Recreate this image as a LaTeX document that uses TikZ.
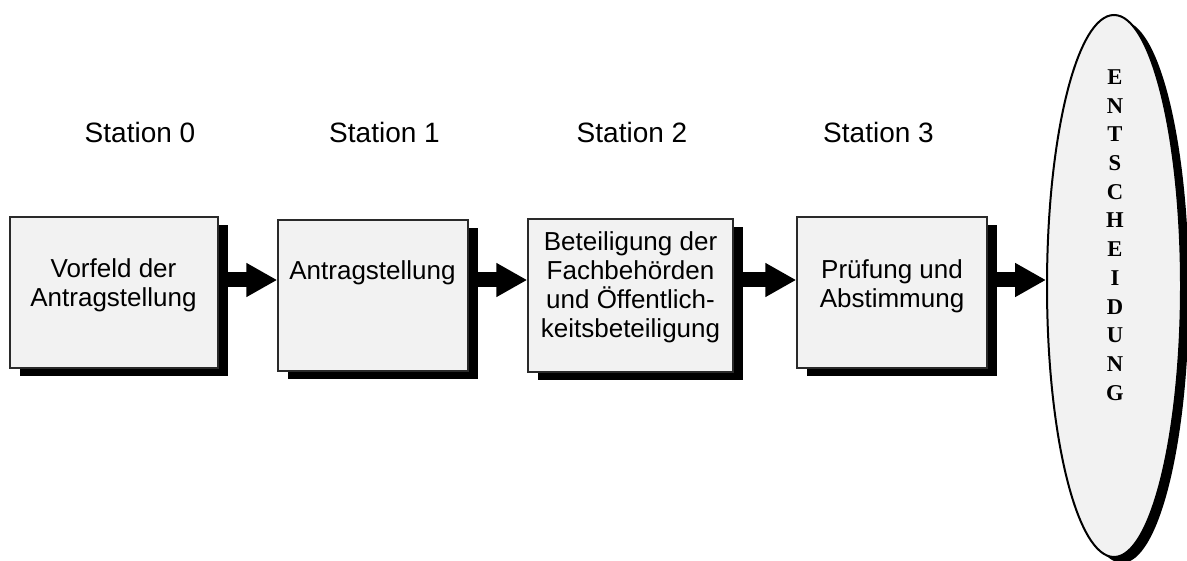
\documentclass[tikz,border=0pt]{standalone}
\usepackage{fontspec}
\setmainfont{Liberation Sans}
\newfontfamily\tmsfont{Liberation Serif}
\usetikzlibrary{shadows,shapes.geometric,arrows.meta}
\definecolor{boxfill}{HTML}{F2F2F2}
\definecolor{boxline}{HTML}{2A2A2A}
\tikzset{
  stationbox/.style={draw=boxline, line width=1.5pt, fill=boxfill, rectangle, inner sep=0pt,
    drop shadow={fill=black, opacity=1, shadow xshift=10pt, shadow yshift=-8pt}},
  boxtext/.style={align=center, inner sep=0pt, font=\fontsize{26}{29}\selectfont},
  stationlabel/.style={inner sep=0pt, font=\fontsize{28}{32}\selectfont},
  decision/.style={ellipse, draw=black, line width=2pt, fill=boxfill, inner sep=0pt,
    drop shadow={fill=black, opacity=1, shadow xshift=8pt, shadow yshift=-6pt}},
  lettertext/.style={align=center, inner sep=0pt, font=\tmsfont\bfseries\fontsize{22.6}{28.7}\selectfont},
  flowarrow/.style={line width=15pt, -{Triangle[length=31pt,width=32pt]}, black},
}
\begin{document}
\begin{tikzpicture}[x=1pt,y=-1pt]
\useasboundingbox (0,0) rectangle (1187,561);
% station labels
\node[stationlabel] (s0) at (140,132.5) {Station 0};
\node[stationlabel] (s1) at (384.5,132.5) {Station 1};
\node[stationlabel] (s2) at (632,132.5) {Station 2};
\node[stationlabel] (s3) at (878.5,132.5) {Station 3};
% boxes
\node[stationbox, minimum width=208pt, minimum height=151pt] (b0) at (114,292.5) {};
\node[stationbox, minimum width=190pt, minimum height=151pt] (b1) at (373,295.5) {};
\node[stationbox, minimum width=205pt, minimum height=153pt] (b2) at (630.5,295.5) {};
\node[stationbox, minimum width=190pt, minimum height=151pt] (b3) at (892,292.5) {};
% box texts
\node[boxtext] (t0) at (113.5,285.5) {Vorfeld der\\Antragstellung};
\node[boxtext] (t1) at (372.5,273) {Antragstellung};
\node[boxtext] (t2) at (630.5,287) {Beteiligung der\\Fachbehörden\\und Öffentlich-\\keitsbeteiligung};
\node[boxtext] (t3) at (892,286.5) {Prüfung und\\Abstimmung};
% decision ellipse
\node[decision, minimum width=134pt, minimum height=542pt] (e) at (1114,286) {};
\node[lettertext] (et) at (1115,235) {E\\N\\T\\S\\C\\H\\E\\I\\D\\U\\N\\G};
% arrows
\coordinate (ay) at (0,280);
\draw[flowarrow] (b0.east |- ay) -- (b1.west |- ay);
\draw[flowarrow] (b1.east |- ay) -- (b2.west |- ay);
\draw[flowarrow] (b2.east |- ay) -- (b3.west |- ay);
\draw[flowarrow] (b3.east |- ay) -- (e.west |- ay);
\end{tikzpicture}
\end{document}
